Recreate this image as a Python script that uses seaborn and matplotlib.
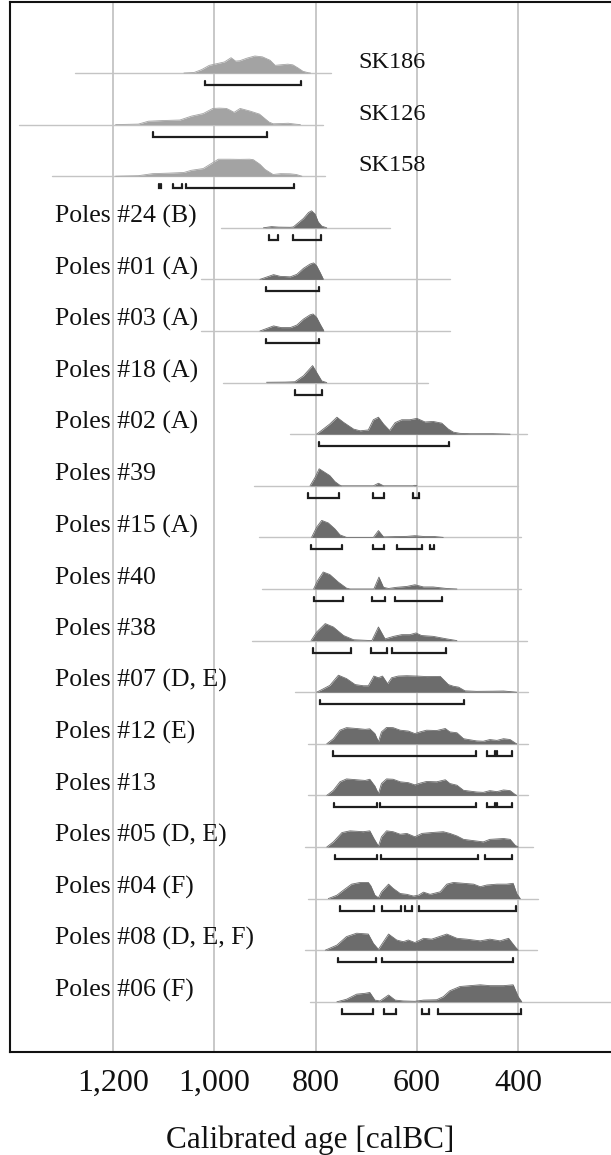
import matplotlib
matplotlib.use("Agg")
import matplotlib.pyplot as plt
import seaborn as sns
import numpy as np

# ---------------- data ----------------
labels = ["SK186", "SK126", "SK158", "Poles #24 (B)", "Poles #01 (A)", "Poles #03 (A)",
          "Poles #18 (A)", "Poles #02 (A)", "Poles #39", "Poles #15 (A)", "Poles #40",
          "Poles #38", "Poles #07 (D, E)", "Poles #12 (E)", "Poles #13", "Poles #05 (D, E)",
          "Poles #04 (F)", "Poles #08 (D, E, F)", "Poles #06 (F)"]
group = ["SK", "SK", "SK"] + ["Poles"] * 16

line_from = [1275, 1386, 1321, 987, 1027, 1027, 982, 850, 922, 912, 905, 926,
             841, 816, 816, 821, 816, 821, 811]
line_to = [769, 785, 781, 654, 535, 535, 579, 383, 400, 395, 395, 383,
           380, 380, 380, 370, 360, 363, 217]

tick_years = [1200, 1000, 800, 600, 400]
tick_labels = ["1,200", "1,000", "800", "600", "400"]

# probability densities (calBC year, relative height)
sk186_yr = [1060, 1040, 1025, 1010, 995, 980, 967, 958, 950, 935, 920, 905, 890, 880, 870, 855, 845, 835, 825, 815, 810]
sk186_p = [0, 0.03, 0.2, 0.45, 0.55, 0.65, 0.9, 0.7, 0.72, 0.88, 1.0, 0.95, 0.75, 0.45, 0.48, 0.52, 0.48, 0.3, 0.1, 0.02, 0]
sk126_yr = [1195, 1150, 1130, 1100, 1068, 1045, 1022, 1003, 990, 976, 969, 961, 949, 930, 911, 892, 884, 870, 854, 838, 830]
sk126_p = [0, 0.03, 0.2, 0.24, 0.27, 0.5, 0.65, 0.95, 0.97, 0.95, 0.85, 0.72, 0.95, 0.8, 0.62, 0.15, 0.05, 0.06, 0.08, 0.02, 0]
sk158_yr = [1195, 1150, 1122, 1090, 1060, 1045, 1022, 1003, 992, 970, 950, 930, 923, 910, 900, 884, 869, 850, 838, 827]
sk158_p = [0, 0.03, 0.15, 0.18, 0.22, 0.35, 0.45, 0.8, 1.0, 1.0, 0.99, 1.0, 0.97, 0.7, 0.4, 0.1, 0.15, 0.14, 0.1, 0]
p24_yr = [903, 887, 873, 850, 844, 834, 824, 814, 808, 801, 795, 788, 778]
p24_p = [0, 0.07, 0.04, 0.03, 0.05, 0.3, 0.55, 0.9, 1.0, 0.8, 0.35, 0.1, 0]
p01_yr = [910, 883, 870, 850, 837, 824, 811, 804, 798, 791, 785]
p01_p = [0, 0.28, 0.18, 0.15, 0.3, 0.65, 0.9, 0.97, 0.8, 0.4, 0.03]
p03_yr = [910, 883, 868, 850, 837, 824, 811, 805, 798, 791, 784]
p03_p = [0, 0.3, 0.2, 0.2, 0.35, 0.7, 0.95, 1.0, 0.8, 0.4, 0.03]
p18_yr = [897, 860, 841, 824, 806, 798, 788, 778]
p18_p = [0.02, 0.03, 0.05, 0.4, 1.0, 0.6, 0.1, 0]
p02_yr = [798, 785, 772, 758, 745, 725, 712, 696, 686, 676, 666, 654, 643, 630, 614, 600, 584, 568, 551, 538, 528, 515, 495, 450, 416]
p02_p = [0, 0.3, 0.6, 1.0, 0.7, 0.3, 0.2, 0.25, 0.85, 1.0, 0.6, 0.22, 0.68, 0.85, 0.85, 0.93, 0.72, 0.75, 0.65, 0.3, 0.12, 0.05, 0.03, 0.03, 0]
p39_yr = [811, 801, 793, 785, 772, 762, 753, 749, 686, 676, 666, 608, 604, 600]
p39_p = [0, 0.5, 1.0, 0.85, 0.6, 0.25, 0.05, 0, 0, 0.15, 0, 0, 0.03, 0]
p15_yr = [808, 798, 788, 775, 762, 752, 739, 686, 676, 666, 640, 620, 604, 585, 565, 548]
p15_p = [0, 0.6, 1.0, 0.85, 0.5, 0.15, 0, 0, 0.4, 0.03, 0.05, 0.06, 0.1, 0.05, 0.05, 0]
p40_yr = [804, 796, 785, 772, 755, 739, 732, 685, 675, 666, 656, 640, 620, 604, 587, 568, 541, 521]
p40_p = [0, 0.5, 1.0, 0.85, 0.4, 0.05, 0, 0, 0.7, 0.1, 0.03, 0.1, 0.15, 0.25, 0.12, 0.12, 0.03, 0]
p38_yr = [809, 798, 781, 765, 745, 725, 689, 676, 663, 646, 630, 614, 602, 591, 568, 541, 521]
p38_p = [0, 0.5, 1.0, 0.8, 0.3, 0.05, 0, 0.8, 0.1, 0.25, 0.35, 0.35, 0.45, 0.3, 0.25, 0.1, 0]
p07_yr = [798, 788, 772, 755, 739, 722, 706, 696, 685, 676, 668, 658, 650, 637, 620, 600, 581, 554, 538, 528, 518, 505, 482, 449, 429, 410, 403]
p07_p = [0, 0.15, 0.4, 1.0, 0.8, 0.45, 0.38, 0.38, 0.95, 0.85, 0.95, 0.5, 0.85, 0.95, 0.97, 0.95, 0.92, 0.93, 0.45, 0.35, 0.3, 0.08, 0.05, 0.06, 0.07, 0.02, 0]
p12_yr = [778, 765, 752, 739, 719, 702, 693, 683, 676, 670, 660, 647, 633, 617, 604, 594, 581, 561, 544, 535, 521, 508, 482, 469, 456, 442, 429, 416, 406, 403]
p12_p = [0, 0.3, 0.8, 0.95, 0.9, 0.85, 0.88, 0.6, 0.12, 0.7, 0.96, 0.95, 0.8, 0.75, 0.6, 0.7, 0.8, 0.78, 0.9, 0.7, 0.65, 0.3, 0.17, 0.15, 0.25, 0.2, 0.3, 0.25, 0.05, 0]
p13_yr = [778, 765, 752, 739, 719, 702, 693, 683, 676, 670, 660, 647, 633, 617, 604, 594, 581, 561, 544, 535, 521, 508, 482, 469, 456, 442, 429, 416, 406, 403]
p13_p = [0, 0.3, 0.8, 0.97, 0.92, 0.88, 0.95, 0.55, 0.1, 0.7, 0.97, 0.95, 0.8, 0.75, 0.62, 0.72, 0.82, 0.8, 0.92, 0.7, 0.6, 0.3, 0.2, 0.18, 0.28, 0.22, 0.32, 0.28, 0.05, 0]
p05_yr = [778, 765, 748, 732, 706, 693, 685, 676, 670, 660, 647, 633, 620, 604, 590, 571, 548, 535, 521, 508, 482, 469, 456, 429, 416, 406, 400]
p05_p = [0, 0.3, 0.85, 0.95, 0.9, 0.95, 0.5, 0.05, 0.6, 0.95, 0.9, 0.75, 0.8, 0.6, 0.8, 0.85, 0.9, 0.8, 0.65, 0.45, 0.35, 0.3, 0.45, 0.5, 0.45, 0.1, 0]
p04_yr = [775, 758, 745, 729, 712, 696, 691, 683, 676, 670, 656, 647, 633, 620, 607, 597, 587, 574, 554, 541, 528, 508, 488, 475, 462, 442, 423, 410, 403, 396]
p04_p = [0, 0.2, 0.5, 0.85, 0.95, 0.95, 0.75, 0.2, 0.05, 0.4, 0.85, 0.6, 0.3, 0.25, 0.15, 0.2, 0.38, 0.25, 0.4, 0.85, 0.95, 0.9, 0.85, 0.7, 0.8, 0.85, 0.85, 0.9, 0.3, 0]
p08_yr = [781, 758, 739, 719, 696, 686, 676, 666, 656, 640, 627, 617, 604, 587, 571, 541, 521, 502, 475, 456, 436, 419, 406, 400]
p08_p = [0, 0.3, 0.8, 1.0, 0.95, 0.4, 0.05, 0.5, 0.95, 0.6, 0.5, 0.6, 0.45, 0.7, 0.65, 0.95, 0.7, 0.65, 0.55, 0.65, 0.55, 0.7, 0.2, 0]
p06_yr = [758, 739, 719, 702, 693, 683, 673, 656, 643, 627, 604, 587, 561, 548, 535, 515, 495, 475, 456, 429, 410, 400, 393]
p06_p = [0, 0.15, 0.45, 0.5, 0.55, 0.1, 0.05, 0.4, 0.1, 0.05, 0.03, 0.1, 0.12, 0.3, 0.65, 0.9, 0.95, 1.0, 0.95, 0.95, 1.0, 0.3, 0]

dens_years = [sk186_yr, sk126_yr, sk158_yr, p24_yr, p01_yr, p03_yr, p18_yr, p02_yr, p39_yr,
              p15_yr, p40_yr, p38_yr, p07_yr, p12_yr, p13_yr, p05_yr, p04_yr, p08_yr, p06_yr]
dens_probs = [sk186_p, sk126_p, sk158_p, p24_p, p01_p, p03_p, p18_p, p02_p, p39_p,
              p15_p, p40_p, p38_p, p07_p, p12_p, p13_p, p05_p, p04_p, p08_p, p06_p]

# highest-probability ranges (from, to) in calBC
r_sk186 = [(1018, 828)]
r_sk126 = [(1122, 896)]
r_sk158 = [(1110, 1105), (1081, 1064), (1055, 842)]
r_p24 = [(893, 875), (845, 790)]
r_p01 = [(897, 793)]
r_p03 = [(897, 794)]
r_p18 = [(841, 787)]
r_p02 = [(793, 536)]
r_p39 = [(816, 753), (686, 665), (608, 596)]
r_p15 = [(810, 747), (687, 664), (640, 589), (575, 566)]
r_p40 = [(804, 745), (689, 663), (644, 551)]
r_p38 = [(806, 730), (691, 659), (650, 542)]
r_p07 = [(791, 508)]
r_p12 = [(765, 483), (461, 446), (441, 413)]
r_p13 = [(764, 678), (672, 483), (461, 446), (441, 413)]
r_p05 = [(762, 679), (671, 479), (465, 413)]
r_p04 = [(752, 685), (668, 631), (624, 609), (595, 404)]
r_p08 = [(756, 681), (668, 411)]
r_p06 = [(748, 686), (665, 642), (589, 576), (558, 394)]
ranges = [r_sk186, r_sk126, r_sk158, r_p24, r_p01, r_p03, r_p18, r_p02, r_p39, r_p15,
          r_p40, r_p38, r_p07, r_p12, r_p13, r_p05, r_p04, r_p08, r_p06]

# ---------------- style ----------------
sns.set_theme(style="white")
plt.rcParams["font.family"] = ["Liberation Serif", "DejaVu Serif"]

W, H = 611, 1155
fig = plt.figure(figsize=(W / 100, H / 100), dpi=100)
ax = fig.add_axes([10 / W, (H - 1052) / H, (W - 10) / W, 1050 / H])

ROW_PX = 51.6
DENS_H = 17 / ROW_PX
BR_OFF = 12 / ROW_PX
BR_TICK = 4.5 / ROW_PX

colors = {"SK": "#a3a3a3", "Poles": "#6c6c6c"}

for i, lab in enumerate(labels):
    # baseline
    sns.lineplot(x=[line_from[i], line_to[i]], y=[i, i], ax=ax, color="#c4c4c4",
                 lw=1.0, estimator=None, sort=False, zorder=2)
    yrs = np.array(dens_years[i], dtype=float)
    p = np.array(dens_probs[i], dtype=float)
    c = colors[group[i]]
    ax.fill_between(yrs, i, i - p * DENS_H, color=c, lw=0, zorder=3)
    sns.lineplot(x=yrs, y=i - p * DENS_H, ax=ax, color=c, lw=0.6,
                 estimator=None, sort=False, zorder=3)
    for (a, b) in ranges[i]:
        yb = i + BR_OFF
        ax.plot([a, a, b, b], [yb - BR_TICK, yb, yb, yb - BR_TICK], color="#1e1e1e",
                lw=1.6, solid_joinstyle="miter", zorder=4)
    if group[i] == "SK":
        ax.text(716, i - 0.2, lab, ha="left", va="center", fontsize=17.5, color="#111111")
    else:
        ax.text(1314, i - 0.22, lab, ha="left", va="center", fontsize=18.5, color="#111111")

ax.set_xlim(1403.4, 216.8)
ax.set_ylim((1052 - 73) / ROW_PX, (2 - 73) / ROW_PX)
ax.set_xticks(tick_years)
ax.set_xticklabels(tick_labels, fontsize=23)
ax.set_yticks([])
ax.tick_params(axis="x", length=0, pad=12, colors="#111111")
ax.grid(axis="x", color="#c8c8c8", lw=1.4)
ax.grid(axis="y", visible=False)
ax.set_axisbelow(True)
ax.set_xlabel("Calibrated age [calBC]", fontsize=22.5, labelpad=20, color="#111111")
ax.set_ylabel("")
for s in ["left", "top", "bottom"]:
    ax.spines[s].set_visible(True)
    ax.spines[s].set_color("#111111")
    ax.spines[s].set_linewidth(1.5)
ax.spines["right"].set_visible(False)

fig.savefig("out.png", dpi=100)
